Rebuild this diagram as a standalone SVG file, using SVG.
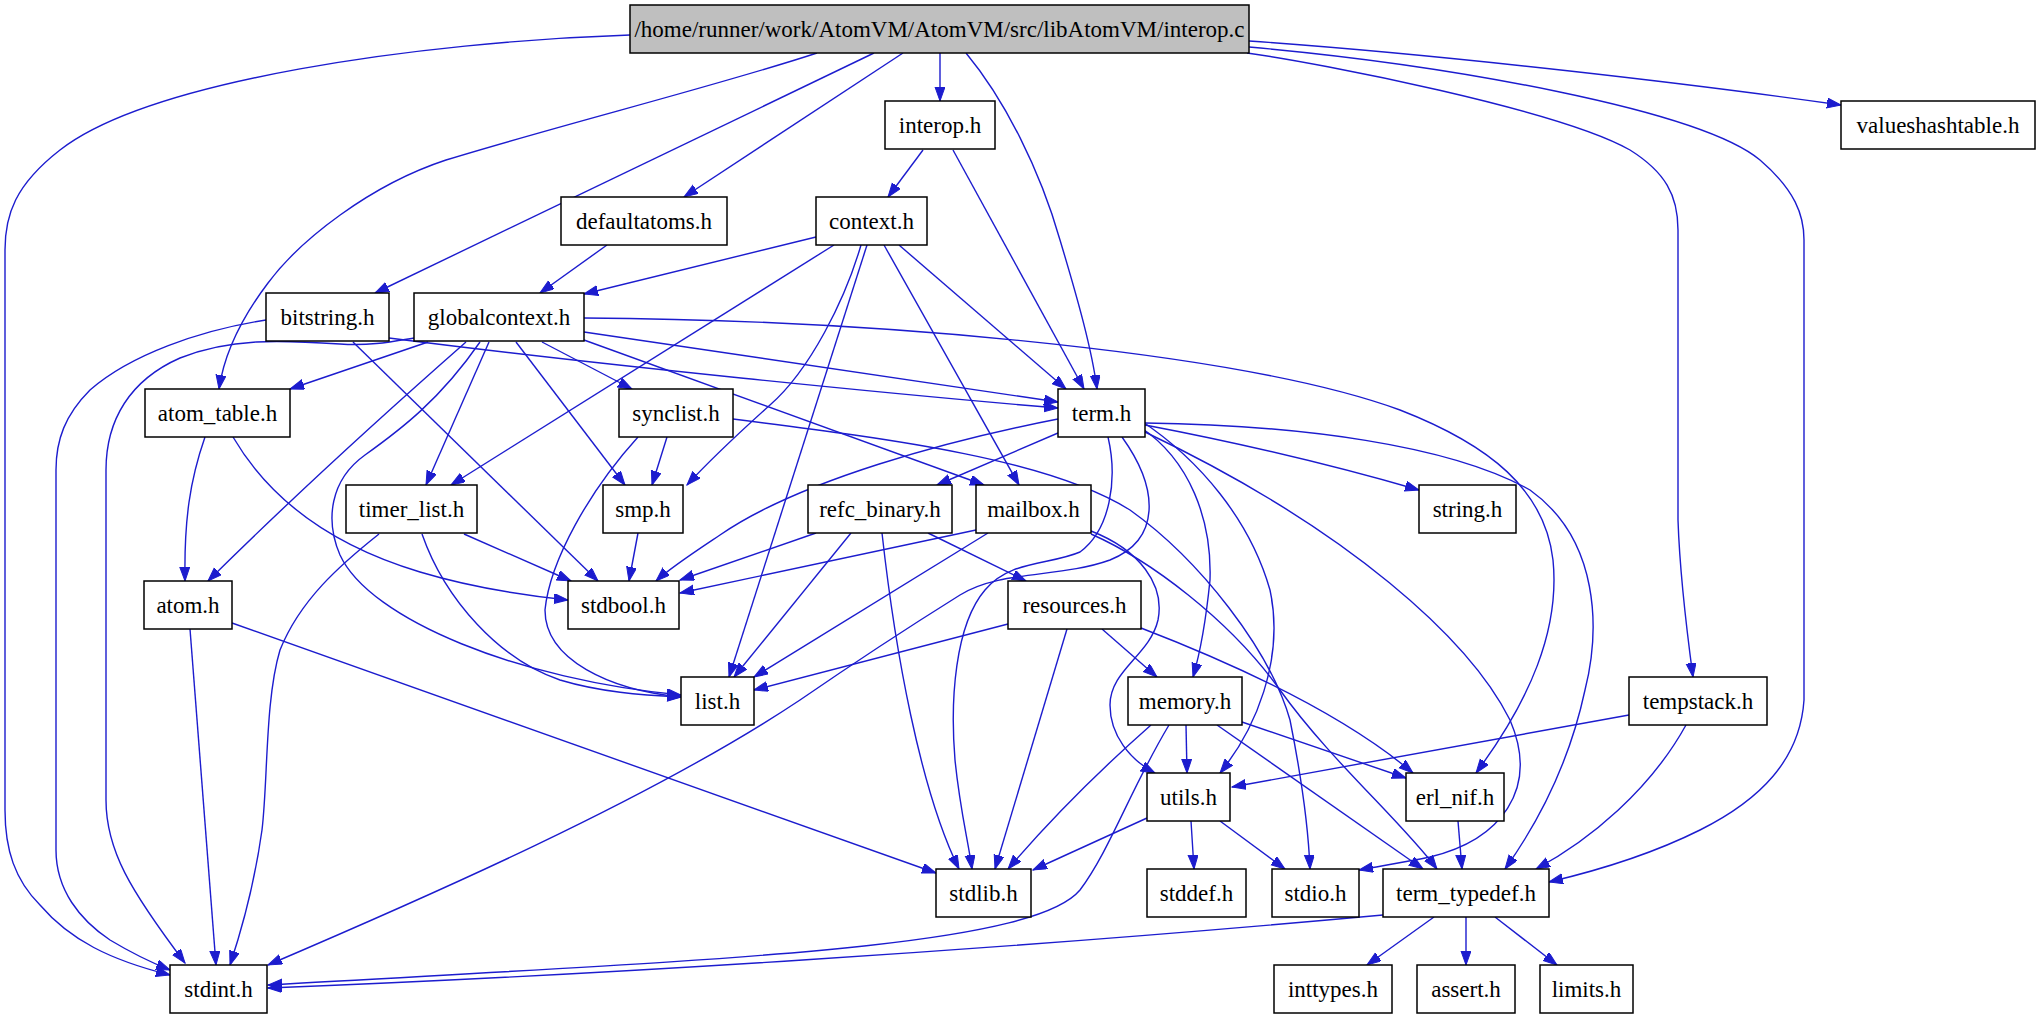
<svg xmlns="http://www.w3.org/2000/svg" width="2044" height="1019" viewBox="0 0 2044 1019">
<style>
.n rect{fill:#ffffff;stroke:#000000;stroke-width:1.5}
.n.main rect{fill:#bfbfbf}
.n text{font-family:"Liberation Serif","Times New Roman",serif;font-size:23px;fill:#000000;text-anchor:middle}
#edges path{fill:none;stroke:#1c1cce;stroke-width:1.4;marker-end:url(#a)}
</style>
<defs>
<marker id="a" markerWidth="15" markerHeight="11" refX="14" refY="5" orient="auto" markerUnits="userSpaceOnUse">
<path d="M0,0 L14,5 L0,10 z" fill="#1c1cce" stroke="#1c1cce" stroke-width="1"/>
</marker>
</defs>
<rect x="0" y="0" width="2044" height="1019" fill="#ffffff"/>
<g id="edges">
<path d="M630,35 C420,42 150,80 60,150 C15,185 5,215 5,250 L5,810 C5,850 15,880 40,905 C70,940 110,960 170,975"/>
<path d="M817,53 C720,85 560,125 446,160 C370,185 300,240 268,283 C240,320 224,355 219,389"/>
<path d="M874,53 L375,293"/>
<path d="M903,53 L684,197"/>
<path d="M940,53 L940,101"/>
<path d="M966,53 C1005,100 1040,170 1060,240 C1078,300 1092,350 1097,389"/>
<path d="M1249,41 C1450,55 1700,85 1841,105"/>
<path d="M1247,53 C1320,63 1560,110 1630,150 C1665,172 1678,195 1678,230 L1678,520 C1680,580 1688,640 1693,677"/>
<path d="M1249,47 C1450,65 1700,110 1760,160 C1795,190 1804,215 1804,240 L1804,700 C1800,760 1760,800 1700,830 C1650,855 1600,870 1549,882"/>
<path d="M923,150 L888,197"/>
<path d="M953,150 L1084,389"/>
<path d="M816,237 L584,294"/>
<path d="M834,245 L451,485"/>
<path d="M861,245 C845,300 810,370 770,405 C740,432 710,460 687,485"/>
<path d="M867,245 L729,677"/>
<path d="M884,245 L1019,485"/>
<path d="M899,245 L1066,389"/>
<path d="M607,245 L540,293"/>
<path d="M266,320 C200,330 130,355 90,390 C65,415 56,440 56,470 L56,850 C56,890 80,920 110,940 C130,952 150,962 170,970"/>
<path d="M353,342 L598,581"/>
<path d="M389,338 C600,365 900,395 1058,408"/>
<path d="M428,342 L290,389"/>
<path d="M466,342 C400,400 300,490 208,581"/>
<path d="M480,342 C440,400 400,430 365,455 C330,480 325,520 340,555 C370,620 520,680 681,695"/>
<path d="M489,342 L426,485"/>
<path d="M516,342 L625,485"/>
<path d="M542,342 L632,389"/>
<path d="M584,340 L984,485"/>
<path d="M584,332 L1058,402"/>
<path d="M414,338 C390,342 370,346 340,344 C280,340 230,338 180,358 C130,380 106,420 106,470 L106,800 C106,850 130,890 185,963"/>
<path d="M584,318 C900,320 1250,355 1400,410 C1490,445 1545,490 1553,560 C1560,630 1530,700 1476,773"/>
<path d="M205,437 C190,480 184,520 185,581"/>
<path d="M233,437 C270,500 330,545 420,572 C470,587 520,595 568,600"/>
<path d="M190,629 L216,965"/>
<path d="M232,623 L936,873"/>
<path d="M379,534 C340,565 300,600 280,650 C265,700 268,780 262,830 C255,880 245,920 230,965"/>
<path d="M464,534 L571,581"/>
<path d="M422,534 C445,600 500,660 560,680 C600,692 640,695 681,697"/>
<path d="M667,437 L652,485"/>
<path d="M638,437 C590,490 550,560 545,610 C545,660 610,690 681,697"/>
<path d="M733,419 C900,440 1050,460 1130,510 C1200,560 1270,650 1290,720 C1300,770 1308,820 1310,869"/>
<path d="M638,533 L629,581"/>
<path d="M1058,433 L937,485"/>
<path d="M1058,419 C950,440 800,480 720,535 C690,555 670,568 656,581"/>
<path d="M1145,425 C1250,445 1350,470 1419,490"/>
<path d="M1140,427 C1190,460 1212,520 1210,580 C1205,630 1198,660 1193,677"/>
<path d="M1140,420 C1200,460 1250,520 1270,590 C1285,660 1255,730 1220,773"/>
<path d="M1145,432 C1350,530 1470,640 1510,720 C1540,790 1500,840 1430,857 C1400,863 1380,866 1359,870"/>
<path d="M1145,423 C1300,425 1450,445 1530,490 C1600,540 1600,630 1585,690 C1570,760 1540,820 1505,869"/>
<path d="M1108,437 C1118,480 1110,530 1080,552 C1050,565 1010,560 985,590 C955,625 950,700 955,760 C960,810 968,840 972,869"/>
<path d="M1122,437 C1160,490 1160,540 1110,560 C1060,578 1000,570 960,595 C920,620 880,645 800,700 C650,800 420,900 268,965"/>
<path d="M816,533 L680,580"/>
<path d="M851,533 L734,677"/>
<path d="M882,533 C895,650 920,790 959,869"/>
<path d="M928,533 L1026,581"/>
<path d="M976,530 L680,593"/>
<path d="M988,533 L754,677"/>
<path d="M1091,531 C1140,550 1165,585 1158,620 C1150,655 1110,670 1110,705 C1110,735 1130,760 1155,773"/>
<path d="M1091,534 C1150,560 1230,620 1280,690 C1330,760 1400,820 1437,869"/>
<path d="M1008,624 L754,690"/>
<path d="M1067,629 L995,869"/>
<path d="M1102,629 L1157,677"/>
<path d="M1141,628 C1250,670 1350,720 1413,773"/>
<path d="M1151,725 C1100,770 1050,820 1008,869"/>
<path d="M1169,725 C1130,790 1110,850 1080,890 C1030,950 700,960 268,985"/>
<path d="M1186,725 L1187,773"/>
<path d="M1217,725 L1423,869"/>
<path d="M1242,722 L1406,778"/>
<path d="M1147,818 L1033,870"/>
<path d="M1191,821 L1194,869"/>
<path d="M1220,821 L1285,869"/>
<path d="M1458,821 L1462,869"/>
<path d="M1629,715 L1232,787"/>
<path d="M1686,725 C1650,790 1590,840 1536,869"/>
<path d="M1383,915 C1000,950 600,975 268,988"/>
<path d="M1434,917 L1367,965"/>
<path d="M1466,917 L1466,965"/>
<path d="M1495,917 L1557,965"/>
</g>
<g id="n_main" class="n main"><rect x="630" y="5" width="619" height="48"/><text x="939.5" y="37">/home/runner/work/AtomVM/AtomVM/src/libAtomVM/interop.c</text></g>
<g id="n_interop" class="n"><rect x="885" y="101" width="110" height="48"/><text x="940" y="133">interop.h</text></g>
<g id="n_valueshashtable" class="n"><rect x="1841" y="101" width="194" height="48"/><text x="1938" y="133">valueshashtable.h</text></g>
<g id="n_defaultatoms" class="n"><rect x="561" y="197" width="166" height="48"/><text x="644" y="229">defaultatoms.h</text></g>
<g id="n_context" class="n"><rect x="816" y="197" width="111" height="48"/><text x="871.5" y="229">context.h</text></g>
<g id="n_bitstring" class="n"><rect x="266" y="293" width="123" height="48"/><text x="327.5" y="325">bitstring.h</text></g>
<g id="n_globalcontext" class="n"><rect x="414" y="293" width="170" height="48"/><text x="499" y="325">globalcontext.h</text></g>
<g id="n_atom_table" class="n"><rect x="145" y="389" width="145" height="48"/><text x="217.5" y="421">atom_table.h</text></g>
<g id="n_synclist" class="n"><rect x="619" y="389" width="114" height="48"/><text x="676" y="421">synclist.h</text></g>
<g id="n_term" class="n"><rect x="1058" y="389" width="87" height="48"/><text x="1101.5" y="421">term.h</text></g>
<g id="n_timer_list" class="n"><rect x="346" y="485" width="131" height="48"/><text x="411.5" y="517">timer_list.h</text></g>
<g id="n_smp" class="n"><rect x="603" y="485" width="80" height="48"/><text x="643" y="517">smp.h</text></g>
<g id="n_refc_binary" class="n"><rect x="808" y="485" width="144" height="48"/><text x="880" y="517">refc_binary.h</text></g>
<g id="n_mailbox" class="n"><rect x="976" y="485" width="115" height="48"/><text x="1033.5" y="517">mailbox.h</text></g>
<g id="n_string" class="n"><rect x="1419" y="485" width="97" height="48"/><text x="1467.5" y="517">string.h</text></g>
<g id="n_atom" class="n"><rect x="144" y="581" width="88" height="48"/><text x="188" y="613">atom.h</text></g>
<g id="n_stdbool" class="n"><rect x="568" y="581" width="111" height="48"/><text x="623.5" y="613">stdbool.h</text></g>
<g id="n_resources" class="n"><rect x="1008" y="581" width="133" height="48"/><text x="1074.5" y="613">resources.h</text></g>
<g id="n_list" class="n"><rect x="681" y="677" width="73" height="48"/><text x="717.5" y="709">list.h</text></g>
<g id="n_memory" class="n"><rect x="1128" y="677" width="114" height="48"/><text x="1185" y="709">memory.h</text></g>
<g id="n_tempstack" class="n"><rect x="1629" y="677" width="138" height="48"/><text x="1698" y="709">tempstack.h</text></g>
<g id="n_utils" class="n"><rect x="1147" y="773" width="83" height="48"/><text x="1188.5" y="805">utils.h</text></g>
<g id="n_erl_nif" class="n"><rect x="1406" y="773" width="98" height="48"/><text x="1455" y="805">erl_nif.h</text></g>
<g id="n_stdlib" class="n"><rect x="936" y="869" width="95" height="48"/><text x="983.5" y="901">stdlib.h</text></g>
<g id="n_stddef" class="n"><rect x="1147" y="869" width="99" height="48"/><text x="1196.5" y="901">stddef.h</text></g>
<g id="n_stdio" class="n"><rect x="1272" y="869" width="87" height="48"/><text x="1315.5" y="901">stdio.h</text></g>
<g id="n_term_typedef" class="n"><rect x="1383" y="869" width="166" height="48"/><text x="1466" y="901">term_typedef.h</text></g>
<g id="n_stdint" class="n"><rect x="170" y="965" width="97" height="48"/><text x="218.5" y="997">stdint.h</text></g>
<g id="n_inttypes" class="n"><rect x="1274" y="965" width="118" height="48"/><text x="1333" y="997">inttypes.h</text></g>
<g id="n_assert" class="n"><rect x="1417" y="965" width="98" height="48"/><text x="1466" y="997">assert.h</text></g>
<g id="n_limits" class="n"><rect x="1540" y="965" width="93" height="48"/><text x="1586.5" y="997">limits.h</text></g>
</svg>
